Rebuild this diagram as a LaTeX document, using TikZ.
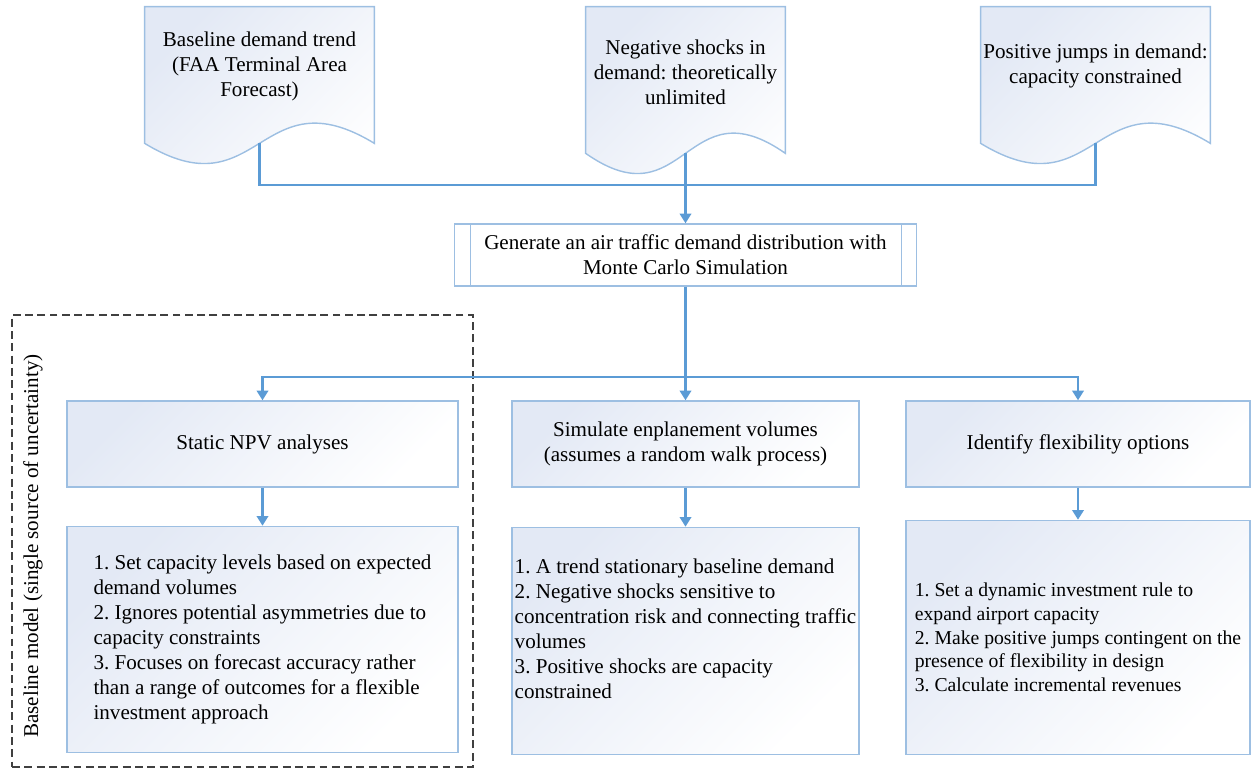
\documentclass[tikz,border=0pt]{standalone}
\usepackage{fontspec}
\setmainfont{Liberation Serif}
\usepackage{xcolor}
\definecolor{boxBorder}{HTML}{9DBFE2}
\definecolor{boxFill}{HTML}{E3E9F5}
\definecolor{flowBlue}{HTML}{5B9BD5}
\definecolor{frameGray}{HTML}{404040}
\usepackage{tikz}
\usetikzlibrary{arrows.meta,positioning,calc}
\frenchspacing
\newcommand{\bodyfont}{\fontsize{12}{14.2}\selectfont}
\newcommand{\smallbodyfont}{\fontsize{11.2}{13.6}\selectfont}
% document symbol: flat top, wavy bottom
\newcommand{\docwave}[1]{%
  \draw[docline] (#1.south west) -- (#1.north west) -- (#1.north east) -- (#1.south east)
    .. controls ($(#1.south)+(0,1.4)$) and ($(#1.south)+(0,-1.4)$) .. (#1.south west) -- cycle;}
\tikzset{
    docline/.style={
        draw=boxBorder,
        line width=0.8pt,
        top color=boxFill,
        bottom color=white,
        shading angle=45
    },
    docbox/.style={
        rectangle,
        inner sep=0pt,
        minimum height=2.72cm
    },
    doctext/.style={
        align=center,
        inner sep=0pt,
        font=\bodyfont
    },
    predef/.style={
        draw=boxBorder,
        fill=white,
        rectangle,
        line width=0.8pt,
        align=center,
        minimum width=9.24cm,
        minimum height=1.24cm,
        font=\bodyfont
    },
    stepbox/.style={
        draw=boxBorder,
        rectangle,
        line width=0.8pt,
        top color=boxFill,
        bottom color=white,
        shading angle=45,
        align=center,
        minimum height=1.72cm,
        font=\bodyfont
    },
    listbox/.style={
        stepbox,
        align=left
    },
    flow/.style={
        line width=1.3pt,
        draw=flowBlue
    },
    arrow/.style={
        flow,
        -{Triangle[width=6.5pt,length=5.5pt]}
    },
    frame/.style={
        draw=frameGray,
        dash pattern=on 4.5pt off 2.5pt,
        line width=0.8pt,
        rectangle,
        inner sep=0pt
    }
}

\begin{document}
\begin{tikzpicture}
    \useasboundingbox (0,0) rectangle (25.02,-15.36);

    % Baseline model frame
    \node[frame, minimum width=9.22cm, minimum height=9.04cm] (baseline) at (4.85,-10.82) {};
    \node[rotate=90, font=\bodyfont] (baselinelbl) at (0.66,-10.92)
        {Baseline model (single source of uncertainty)};

    % Demand inputs
    \node[docbox, minimum width=4.58cm] (doc1) at (5.19,-1.50) {};
    \node[docbox, minimum width=3.98cm, minimum height=2.92cm] (doc2) at (13.71,-1.60) {};
    \node[docbox, minimum width=4.58cm] (doc3) at (21.91,-1.50) {};
    \docwave{doc1}
    \docwave{doc2}
    \docwave{doc3}
    \node[doctext] (doc1txt) at ([yshift=1.8mm]doc1.center)
        {Baseline demand trend\\(FAA Terminal Area\\Forecast)};
    \node[doctext] (doc2txt) at ([yshift=1.6mm]doc2.center)
        {Negative shocks in\\demand: theoretically\\unlimited};
    \node[doctext] (doc3txt) at ([yshift=1.8mm]doc3.center)
        {Positive jumps in demand:\\capacity constrained};

    % Simulation
    \node[predef] (gen) at (13.71,-5.10)
        {Generate an air traffic demand distribution with\\Monte Carlo Simulation};
    \draw[boxBorder, line width=0.8pt] ([xshift=3.3mm]gen.north west) -- ([xshift=3.3mm]gen.south west);
    \draw[boxBorder, line width=0.8pt] ([xshift=-3.1mm]gen.north east) -- ([xshift=-3.1mm]gen.south east);

    % Three branches
    \node[stepbox, minimum width=7.82cm] (npv) at (5.25,-8.88) {Static NPV analyses};
    \node[stepbox, minimum width=6.94cm] (sim) at (13.71,-8.88)
        {Simulate enplanement volumes\\(assumes a random walk process)};
    \node[stepbox, minimum width=6.88cm] (flex) at (21.56,-8.88) {Identify flexibility options};

    \node[listbox, minimum width=7.82cm, minimum height=4.52cm, below=0.76cm of npv] (npvlist)
        {1. Set capacity levels based on expected\\demand volumes\\2. Ignores potential asymmetries due to\\capacity constraints\\3. Focuses on forecast accuracy rather\\than a range of outcomes for a flexible\\investment approach};
    \node[listbox, minimum width=6.94cm, minimum height=4.54cm, inner xsep=0.5mm, below=0.78cm of sim] (simlist)
        {1. A trend stationary baseline demand\\2. Negative shocks sensitive to\\concentration risk and connecting traffic\\volumes\\3. Positive shocks are capacity\\constrained\\~};
    \node[listbox, minimum width=6.88cm, minimum height=4.68cm, font=\smallbodyfont, below=0.64cm of flex] (flexlist)
        {1. Set a dynamic investment rule to\\expand airport capacity\\2. Make positive jumps contingent on the\\presence of flexibility in design\\3. Calculate incremental revenues};

    % Connections
    \coordinate (join) at (13.71,-3.70);
    \coordinate (split) at (13.71,-7.54);
    \draw[flow] (doc1.south) |- (join);
    \draw[flow] (doc3.south) |- (join);
    \draw[arrow] (doc2.south) -- (gen);
    \draw[arrow] (gen) -- (sim);
    \draw[arrow] (split) -| (npv);
    \draw[arrow] (split) -| (flex);
    \draw[arrow] (npv) -- (npvlist);
    \draw[arrow] (sim) -- (simlist);
    \draw[arrow] (flex) -- (flexlist);
\end{tikzpicture}
\end{document}
